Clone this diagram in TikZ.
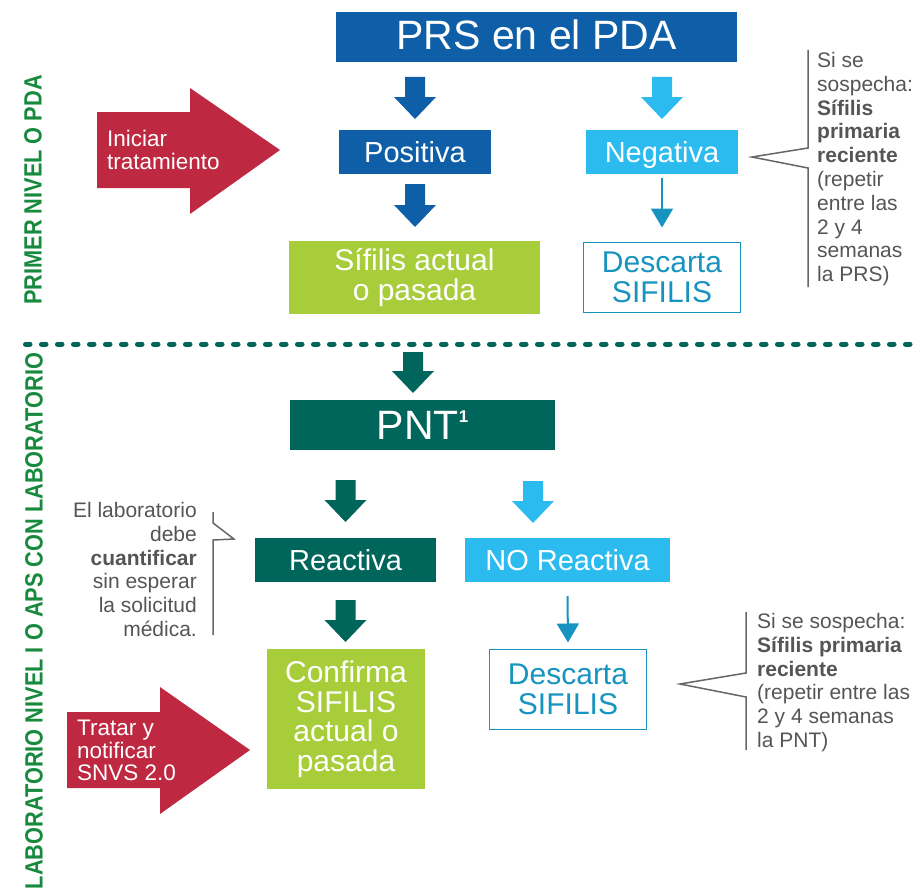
\documentclass[tikz,border=0pt]{standalone}
\usepackage{fontspec}
\setmainfont{Liberation Sans}
\newfontfamily\condfont[FakeStretch=0.87,BoldFont={Liberation Sans Bold}]{Liberation Sans}
\usetikzlibrary{calc,arrows.meta}
\definecolor{dblue}{HTML}{0E5FA8}
\definecolor{lblue}{HTML}{2BBBEE}
\definecolor{tblue}{HTML}{1693BF}
\definecolor{lime}{HTML}{A8CD3A}
\definecolor{teal}{HTML}{00665B}
\definecolor{redar}{HTML}{BE2841}
\definecolor{lgreen}{HTML}{178A3E}
\definecolor{gtext}{HTML}{555555}
\definecolor{gline}{HTML}{666666}
\newcommand\blkarrow[3]{\fill[#1] let \p1=(#2), \p2=(#3) in
  (\x1-10pt,\y1) -- (\x1+10pt,\y1) -- (\x1+10pt,\y2+22pt) -- (\x1+21pt,\y2+22pt)
  -- (\x1,\y2) -- (\x1-21pt,\y2+22pt) -- (\x1-10pt,\y2+22pt) -- cycle;}
\begin{document}
\begin{tikzpicture}[x=1pt,y=-1pt,
  box/.style={inner sep=0pt, outer sep=0pt, align=center, text=white},
  bigtxt/.style={font=\fontsize{41}{41}\selectfont},
  midtxt/.style={font=\fontsize{29}{29}\selectfont, text height=21pt, text depth=0pt},
  twotxt/.style={font=\fontsize{30}{30}\selectfont},
  outbox/.style={box, draw=tblue, line width=1.5pt, text=tblue, font=\fontsize{30}{30}\selectfont},
  note/.style={inner sep=0pt, text=gtext, font=\fontsize{21}{23.8}\selectfont},
  redtxt/.style={inner sep=0pt, text=white, align=left, font=\fontsize{22.5}{22.5}\selectfont},
  sidelabel/.style={rotate=90, inner sep=0pt, text=lgreen, font=\condfont\bfseries\fontsize{25}{25}\selectfont},
  thinarrow/.style={draw=tblue, line width=2pt, -{Triangle[width=22pt,length=19pt]}},
  bracket/.style={draw=gline, line width=1.5pt}]
\useasboundingbox (0,0) rectangle (921,891);

% side labels
\node[sidelabel] (lab1) at (33,190) {PRIMER NIVEL O PDA};
\node[sidelabel] (lab2) at (34,621) {LABORATORIO NIVEL I O APS CON LABORATORIO};

% separator
\draw[teal, line width=5pt, line cap=round, dash pattern=on 4.5pt off 11.5pt] (25.5,344) -- (915,344);

% top part
\node[box, fill=dblue, bigtxt, text height=25pt, text depth=0pt, minimum width=401pt, minimum height=50pt] (prs) at (536.5,37) {PRS en el PDA};
\node[box, fill=dblue, midtxt, minimum width=152pt, minimum height=44pt] (pos) at (415,152) {Positiva};
\node[box, fill=lblue, midtxt, minimum width=152pt, minimum height=44pt] (neg) at (662,152) {Negativa};
\node[box, fill=lime, twotxt, minimum width=251pt, minimum height=73pt] (sifa) at (414.5,277.5) {Sífilis actual\\o pasada};
\node[outbox, minimum width=157pt, minimum height=70pt] (desc1) at (662,277.5) {Descarta\\SIFILIS};

\blkarrow{dblue}{$(prs.south -| pos.center)+(0,15)$}{$(pos.north)+(0,-11)$}
\blkarrow{lblue}{$(prs.south -| neg.center)+(0,15)$}{$(neg.north)+(0,-11)$}
\blkarrow{dblue}{$(pos.south)+(0,10)$}{$(sifa.north -| pos.center)+(0,-14)$}
\draw[thinarrow] ($(neg.south)+(0,4)$) -- ($(desc1.north)+(0,-15)$);

% red arrow 1
\fill[redar] (97,112) -- (190,112) -- (190,88) -- (280,150) -- (190,214) -- (190,188) -- (97,188) -- cycle;
\node[redtxt, anchor=north west] (inic) at (107,130) {Iniciar\\tratamiento};

% callout 1
\draw[bracket] (808,50) -- (808,148) -- (752,157) -- (808,168) -- (808,287);
\node[note, anchor=north west, align=left] (note1) at (817,52) {Si se\\sospecha:\\\textbf{Sífilis}\\\textbf{primaria}\\\textbf{reciente}\\(repetir\\entre las\\2 y 4\\semanas\\la PRS)};

% lower part
\coordinate (pntin) at (413,352);
\coordinate (nrx) at (533,0);
\node[box, fill=teal, bigtxt, minimum width=265pt, minimum height=50pt] (pnt) at (422.5,425) {PNT\raisebox{17pt}{\fontsize{17}{17}\selectfont\bfseries 1}};
\node[box, fill=teal, midtxt, minimum width=181pt, minimum height=44pt] (reac) at (345.5,560) {Reactiva};
\node[box, fill=lblue, midtxt, minimum width=205pt, minimum height=44pt] (noreac) at (567.5,560) {NO Reactiva};
\node[box, fill=lime, font=\fontsize{30}{29.5}\selectfont, minimum width=158pt, minimum height=140pt] (conf) at (346,719) {Confirma\\SIFILIS\\actual o\\pasada};
\node[outbox, minimum width=157pt, minimum height=80pt] (desc2) at (568,689.5) {Descarta\\SIFILIS};

\blkarrow{teal}{pntin}{$(pnt.north -| pntin)+(0,-7)$}
\blkarrow{teal}{$(pnt.south -| reac.center)+(0,30)$}{$(reac.north)+(0,-16)$}
\blkarrow{lblue}{$(pnt.south -| nrx)+(0,31)$}{$(noreac.north -| nrx)+(0,-15)$}
\blkarrow{teal}{$(reac.south)+(0,18)$}{$(conf.north -| reac.center)+(0,-7)$}
\draw[thinarrow] ($(noreac.south)+(0,14)$) -- ($(desc2.north)+(0,-7)$);

% red arrow 2
\fill[redar] (67,712) -- (160,712) -- (160,687) -- (250,750) -- (160,814) -- (160,788) -- (67,788) -- cycle;
\node[redtxt, anchor=north west] (trat) at (77,720) {Tratar y\\notificar\\SNVS 2.0};

% callout 3
\draw[bracket] (213,512) -- (213,523) -- (234,539) -- (213,540) -- (213,635);
\node[note, anchor=north east, align=right] (note3) at (197,502) {El laboratorio\\debe\\\textbf{cuantificar}\\sin esperar\\la solicitud\\médica.};

% callout 2
\draw[bracket] (746,612) -- (746,673) -- (680,684) -- (746,697) -- (746,750);
\node[note, anchor=north west, align=left] (note2) at (757,613) {Si se sospecha:\\\textbf{Sífilis primaria}\\\textbf{reciente}\\(repetir entre las\\2 y 4 semanas\\la PNT)};
\end{tikzpicture}
\end{document}
